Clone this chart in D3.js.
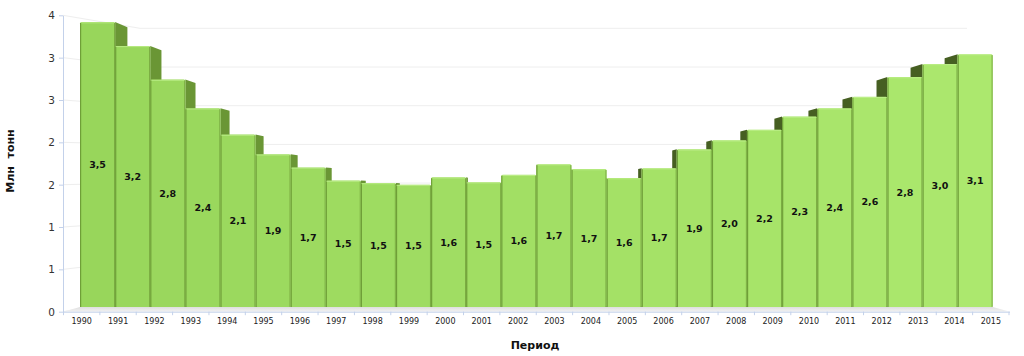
<!DOCTYPE html>
<html><head><meta charset="utf-8">
<script src="https://cdn.jsdelivr.net/npm/d3@7"></script>
<style>
html,body{margin:0;padding:0;background:#fff;}
svg{display:block;font-family:"DejaVu Sans",Verdana,sans-serif;}
</style></head>
<body>
<svg id="chart" width="1024" height="356"></svg>
<script>
const years = ["1990","1991","1992","1993","1994","1995","1996","1997","1998","1999","2000","2001","2002","2003","2004","2005","2006","2007","2008","2009","2010","2011","2012","2013","2014","2015"];
const values = [3.47,3.18,2.77,2.42,2.10,1.86,1.70,1.54,1.51,1.49,1.58,1.52,1.61,1.74,1.68,1.57,1.69,1.92,2.03,2.16,2.32,2.42,2.56,2.80,2.96,3.08];
const yTickValues = [0,0.5,1,1.5,2,2.5,3,3.5];
const yTickLabels = ["0","1","1","2","2","3","3","4"];
const xTitle = "Период";
const yTitle = "Млн  тонн";

const svg = d3.select("#chart");

// scales: front plane (axes), mid plane (bars), back wall (grid)
const xFront = d3.scaleBand().domain(years).range([63.5, 1009]);
const xBar = d3.scaleBand().domain(years).range([80, 992.7]);
const yAxisS = d3.scaleLinear().domain([0, 3.5]).range([311.7, 15.3]);
const yBar = d3.scaleLinear().domain([0, 3.5]).range([307, 307 - 3.5 * 82.1]);
const yBack = d3.scaleLinear().domain([0, 3.5]).range([299.2, 28.3]);
const colorS = d3.scaleLinear().domain([0, years.length - 1]).range(["#98d65b", "#ace86e"]);

// gridlines (side wall + back wall)
const grid = svg.append("g");
yTickValues.forEach(v => {
  grid.append("path")
    .attr("d", `M63,${yAxisS(v)}L140,${yBack(v)}L967,${yBack(v)}`)
    .attr("fill", "none").attr("stroke", "#eeeeee").attr("stroke-width", 1);
});

// floor
const defs = svg.append("defs");
const fg = defs.append("linearGradient").attr("id", "floorG").attr("x1", 0).attr("y1", 0).attr("x2", 0).attr("y2", 1);
fg.append("stop").attr("offset", "0%").attr("stop-color", "#dedede");
fg.append("stop").attr("offset", "100%").attr("stop-color", "#f2f2f2");
svg.append("path")
  .attr("d", `M63,${yAxisS(0)}L1010,${yAxisS(0)}L${xBar.range()[1]},${yBar(0)}L${xBar.range()[0]},${yBar(0)}Z`)
  .attr("fill", "url(#floorG)");

// 3D side faces
const cx = 525, vy = 190, f = 0.03;
const bw = xBar.bandwidth();
const sides = svg.append("g");
years.forEach((yr, i) => {
  const xl = xBar(yr), xr = xl + bw, yt = yBar(values[i]), yb = yBar(0);
  const center = xl + bw / 2;
  const xe = center < cx ? xr : xl;
  const xbk = xe + (cx - xe) * f;
  const ytb = yt + (vy - yt) * f;
  sides.append("path")
    .attr("d", `M${xe},${yt}L${xbk},${ytb}L${xbk},${yb}L${xe},${yb}Z`)
    .attr("fill", center < cx ? "#6a9635" : "#465f22");
});

// front faces
const bars = svg.append("g");
years.forEach((yr, i) => {
  const xl = xBar(yr), yt = yBar(values[i]), yb = yBar(0);
  bars.append("rect")
    .attr("x", xl).attr("y", yt).attr("width", bw).attr("height", yb - yt)
    .attr("rx", 1.5)
    .attr("fill", colorS(i));
  bars.append("line")
    .attr("x1", xl + 1).attr("x2", xl + bw - 1).attr("y1", yt + 0.7).attr("y2", yt + 0.7)
    .attr("stroke", "#c0f08e").attr("stroke-width", 1).attr("opacity", 0.8);
  bars.append("line")
    .attr("x1", xl + 0.6).attr("x2", xl + 0.6).attr("y1", yt + 1).attr("y2", yb)
    .attr("stroke", "#6f9f38").attr("stroke-width", 1.2);
  bars.append("line")
    .attr("x1", xl + bw - 0.6).attr("x2", xl + bw - 0.6).attr("y1", yt + 1).attr("y2", yb)
    .attr("stroke", "#7aab42").attr("stroke-width", 1);
});

// data labels
const fmt = v => v.toFixed(1).replace(".", ",");
svg.append("g").selectAll("text").data(values).join("text")
  .attr("x", (d, i) => xBar(years[i]) + bw / 2)
  .attr("y", d => (yBar(d) + yBar(0)) / 2 + 3.5)
  .attr("text-anchor", "middle")
  .attr("font-size", 9.5).attr("font-weight", "bold").attr("fill", "#111")
  .text(d => fmt(d));

// y axis
const yAx = svg.append("g").attr("transform", "translate(63,0)")
  .call(d3.axisLeft(yAxisS).tickValues(yTickValues).tickFormat((d, i) => yTickLabels[i]).tickSize(4).tickSizeOuter(0));
yAx.select(".domain").attr("stroke", "#c3d1ea");
yAx.selectAll(".tick line").attr("stroke", "#c3d1ea");
yAx.selectAll(".tick text").attr("font-size", 10.5).attr("fill", "#333").attr("x", -8)
  .attr("font-family", "DejaVu Sans, sans-serif");

// x axis
const xAx = svg.append("g").attr("transform", `translate(0,${yAxisS(0)})`)
  .call(d3.axisBottom(xFront).tickSize(0).tickPadding(7));
xAx.select(".domain").attr("d", `M63,0.5H1010`).attr("stroke", "#c3d1ea");
xAx.selectAll(".tick text").attr("font-size", 8).attr("fill", "#222")
  .attr("font-family", "DejaVu Sans, sans-serif");
xAx.append("g").selectAll("line").data(years.concat(["end"])).join("line")
  .attr("x1", (d, i) => i < years.length ? xFront(d) : xFront.range()[1])
  .attr("x2", (d, i) => i < years.length ? xFront(d) : xFront.range()[1])
  .attr("y1", 0).attr("y2", 3.5).attr("stroke", "#c3d1ea");

// titles
svg.append("text").attr("x", 535).attr("y", 349).attr("text-anchor", "middle")
  .attr("font-size", 11).attr("font-weight", "bold").attr("fill", "#111").text(xTitle);
svg.append("text").attr("transform", "translate(14,161) rotate(-90)").attr("text-anchor", "middle")
  .attr("font-size", 11).attr("font-weight", "bold").attr("fill", "#111")
  .style("white-space", "pre").text(yTitle);
</script>
</body></html>
